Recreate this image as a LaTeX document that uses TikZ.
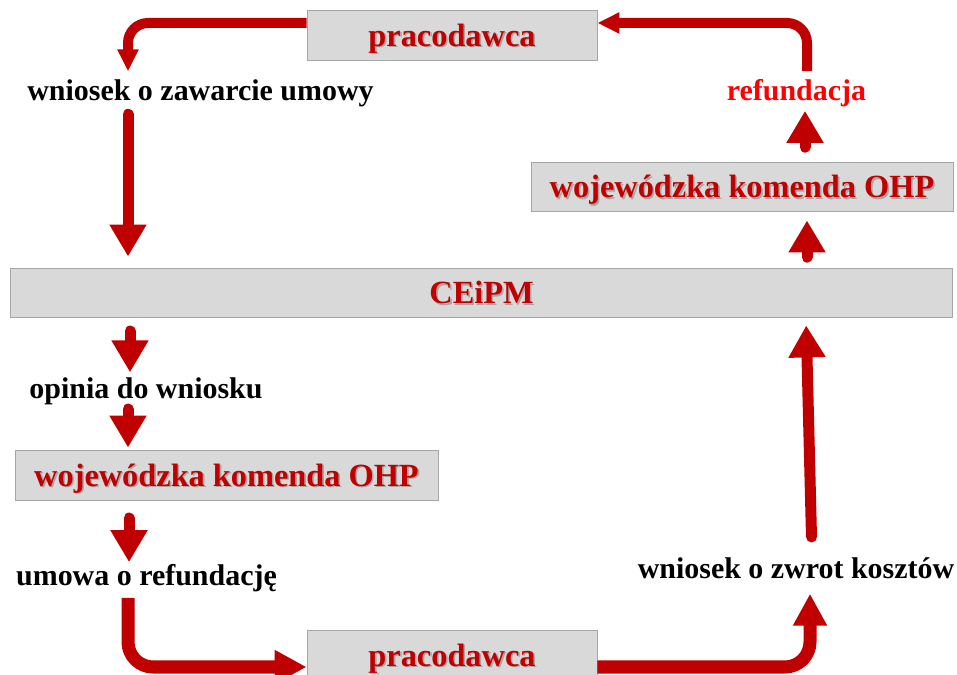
\documentclass[tikz,border=0pt]{standalone}
\usepackage{fontspec}
\setmainfont{Liberation Serif}
\usepackage{tikz}
\usetikzlibrary{arrows.meta,positioning,calc}

\definecolor{arrred}{HTML}{C00000}
\definecolor{boxgray}{HTML}{D9D9D9}
\definecolor{boxline}{HTML}{A6A6A6}
\newcommand{\shd}[1]{\makebox[0pt][l]{\hspace{0.04cm}\raisebox{-0.04cm}{\color{black!35}#1}}#1}

\begin{document}
\begin{tikzpicture}[
  x=0.025cm, y=0.025cm,
  box/.style={draw=boxline,fill=boxgray,line width=0.6pt,inner sep=0pt,
    text depth=0pt,text=arrred,font=\fontsize{23}{27}\selectfont\bfseries},
  lbl/.style={inner sep=0pt,text depth=0pt,font=\fontsize{21.3}{25}\selectfont\bfseries},
  arB/.style={arrred,line width=0.275cm,line cap=round,
    -{Triangle[length=0.8cm,width=0.875cm]}},
  arS/.style={arrred,line width=0.25cm,rounded corners=0.5cm,
    -{Triangle[length=0.55cm,width=0.5cm]}},
  arC/.style={arrred,line width=0.325cm,rounded corners=0.625cm,
    -{Triangle[length=0.8cm,width=0.8cm]}}
]
\useasboundingbox (0,0) rectangle (957,675);
\coordinate (colL) at (128,0);
\coordinate (colR) at (807,0);
% boxes
\node[box,minimum width=7.25cm,minimum height=1.25cm] (emp1) at (452,640) {\shd{pracodawca}};
\node[box,minimum width=23.525cm,minimum height=1.225cm] (ceipm) at (481.5,382.5) {\shd{CEiPM}};
\node[box,minimum width=10.575cm,minimum height=1.25cm] (wko1) at (226.5,200) {\shd{wojewódzka komenda OHP}};
\node[box,minimum width=10.55cm,minimum height=1.225cm] (wko2) at (742,488.5) {\shd{wojewódzka komenda OHP}};
\node[box,minimum width=7.25cm,minimum height=1.25cm] (emp2) at (452,20) {\shd{pracodawca}};
% labels
\node[lbl] (wzu) at (200.5,585) {wniosek o zawarcie umowy};
\node[lbl,text={rgb,255:red,255;green,0;blue,0}] (refu) at (796.5,585) {refundacja};
\node[lbl] (opin) at (146,287) {opinia do wniosku};
\node[lbl] (umowa) at (146.5,100) {umowa o refundację};
\node[lbl] (wzk) at (796,107) {wniosek o zwrot kosztów};
% left side
\draw[arS,shorten >=0.2cm] ($(emp1.west)+(0,12)$) -| (wzu.north -| colL);
\draw[arB,shorten <=0.34cm,shorten >=0.275cm] (wzu.south -| colL) -- (ceipm.north -| colL);
\draw[arB,shorten <=0.34cm,shorten >=0.125cm] ($(ceipm.south -| colL)+(2,0)$) -- ($(opin.north -| colL)+(2,0)$);
\draw[arB,shorten <=0.26cm,shorten >=0.05cm] (opin.south -| colL) -- (wko1.north -| colL);
\draw[arB,shorten <=0.44cm,shorten >=0.05cm] ($(wko1.south -| colL)+(1,0)$) -- ($(umowa.north -| colL)+(1,0)$);
\draw[arC,shorten <=0.3cm] (umowa.south -| colL) |- ($(emp2.west)+(0,-12)$);
% right side
\draw[arC,shorten >=0.375cm] ($(emp2.east)+(0,-12)$) -| ($(wzk.south -| colR)+(3,0)$);
\draw[arB,shorten <=0.51cm,shorten >=0.2cm] ($(wzk.north -| colR)+(5,0)$) -- ($(ceipm.south -| colR)+(-1,0)$);
\draw[arB,shorten <=0.26cm,shorten >=0.225cm] (ceipm.north -| colR) -- (wko2.south -| colR);
\draw[arB,shorten <=0.36cm,shorten >=0.25cm] ($(wko2.north -| colR)+(-2,0)$) -- ($(refu.south -| colR)+(-2,0)$);
\draw[arS,shorten <=0.2cm] (refu.north -| colR) |- ($(emp1.east)+(0,12)$);
\end{tikzpicture}
\end{document}
